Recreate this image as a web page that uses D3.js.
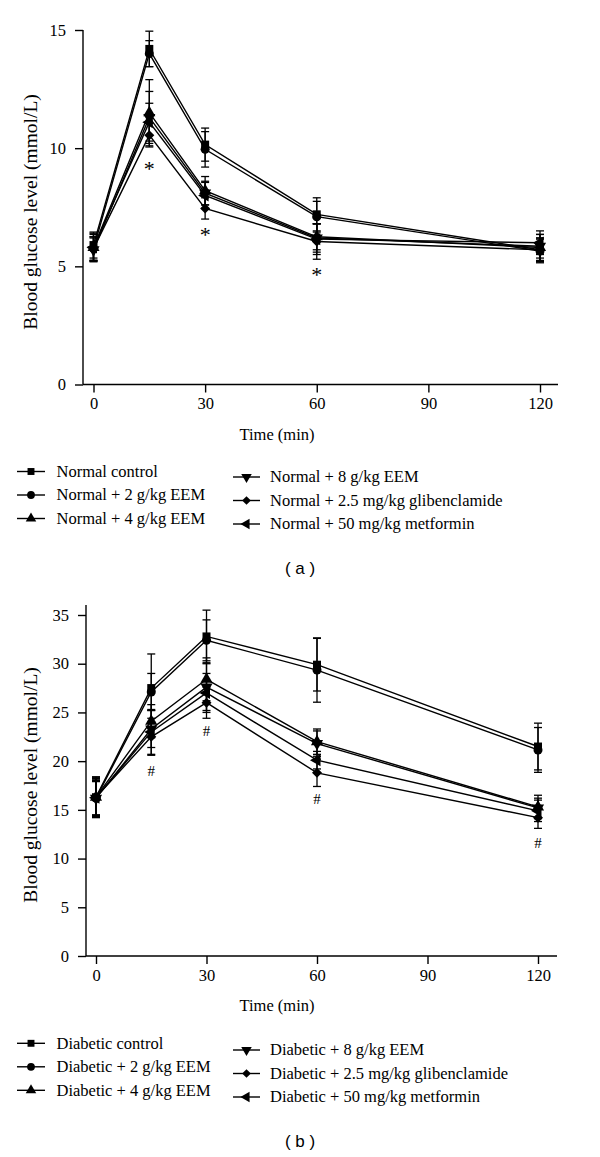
<!DOCTYPE html>
<meta charset="utf-8">
<title>Blood glucose OGTT</title>
<style>
  body { margin: 0; background: #fff; }
  svg { display: block; }
  .axis text { font-family: "Liberation Serif", "DejaVu Serif", serif; font-size: 16.5px; fill: #000; }
  .axis line, .axis path { stroke: #000; stroke-width: 1.4; }
  .ttl { font-family: "Liberation Serif", "DejaVu Serif", serif; font-size: 16.5px; fill: #000; }
  .ytl { font-family: "Liberation Serif", "DejaVu Serif", serif; font-size: 19.5px; fill: #000; }
  .leg { font-family: "Liberation Serif", "DejaVu Serif", serif; font-size: 16.5px; fill: #000; }
  .panel { font-family: "Liberation Sans", Arial, sans-serif; font-size: 17px; fill: #000; }
  .sig { font-family: "Liberation Serif", "DejaVu Serif", serif; fill: #000; }
  path.series { fill: none; stroke: #000; stroke-width: 1.4; }
  line.err { stroke: #000; stroke-width: 1.3; }
</style>
<body>
<script src="https://cdn.jsdelivr.net/npm/d3@7"></script>
<script>
// sampling times (min)
var times = [0, 15, 30, 60, 120];

// panel (a) normal rats, mean and SEM (mmol/L)
var normalLabels = ["Normal control", "Normal + 2 g/kg EEM", "Normal + 4 g/kg EEM",
                    "Normal + 8 g/kg EEM", "Normal + 2.5 mg/kg glibenclamide", "Normal + 50 mg/kg metformin"];
var normalControl = [5.9, 14.2, 10.15, 7.2, 5.7];
var normalEem2    = [5.75, 14.0, 9.95, 7.1, 5.65];
var normalEem4    = [5.8, 11.5, 8.2, 6.25, 5.8];
var normalEem8    = [5.7, 11.3, 8.1, 6.2, 5.85];
var normalGlib    = [5.75, 10.55, 7.45, 6.05, 5.7];
var normalMet     = [5.8, 11.1, 8.0, 6.15, 6.0];
var normalControlSem = [0.55, 0.75, 0.7, 0.7, 0.5];
var normalEem2Sem    = [0.5, 0.55, 0.75, 0.65, 0.5];
var normalEem4Sem    = [0.55, 1.4, 0.6, 0.55, 0.55];
var normalEem8Sem    = [0.5, 1.1, 0.5, 0.6, 0.5];
var normalGlibSem    = [0.5, 0.5, 0.45, 0.75, 0.5];
var normalMetSem     = [0.6, 0.8, 0.55, 0.65, 0.5];
var normalSig = [[15, 9.35], [30, 6.55], [60, 4.85]];

// panel (b) diabetic rats
var diabeticLabels = ["Diabetic control", "Diabetic + 2 g/kg EEM", "Diabetic + 4 g/kg EEM",
                      "Diabetic + 8 g/kg EEM", "Diabetic + 2.5 mg/kg glibenclamide", "Diabetic + 50 mg/kg metformin"];
var diabeticControl = [16.3, 27.5, 32.8, 29.9, 21.5];
var diabeticEem2    = [16.2, 27.1, 32.4, 29.35, 21.15];
var diabeticEem4    = [16.3, 24.1, 28.4, 22.0, 15.3];
var diabeticEem8    = [16.2, 23.3, 27.6, 21.8, 15.2];
var diabeticGlib    = [16.3, 22.5, 26.0, 18.8, 14.2];
var diabeticMet     = [16.25, 23.0, 27.0, 20.1, 14.9];
var diabeticControlSem = [1.9, 3.5, 2.7, 2.7, 2.4];
var diabeticEem2Sem    = [1.8, 1.9, 2.1, 3.3, 2.3];
var diabeticEem4Sem    = [2.0, 1.7, 2.2, 1.3, 1.2];
var diabeticEem8Sem    = [1.7, 1.9, 2.4, 1.3, 1.0];
var diabeticGlibSem    = [2.1, 1.9, 1.6, 1.4, 1.1];
var diabeticMetSem     = [1.9, 2.3, 2.0, 0.9, 1.1];
var diabeticSig = [[15, 19.1], [30, 23.2], [60, 16.2], [120, 11.7]];

var xTicks = [0, 30, 60, 90, 120];

// marker shapes: [symbol type, rotation, size]
var markers = [
  [d3.symbolSquare, 0, 64],
  [d3.symbolCircle, 0, 64],
  [d3.symbolTriangle, 0, 64],
  [d3.symbolTriangle, 180, 64],
  [d3.symbolSquare, 45, 50],
  [d3.symbolTriangle, -90, 64]
];

var svg = d3.select("body").append("svg")
    .attr("width", 600)
    .attr("height", 1157);

function panel(opt) {
  var x = d3.scaleLinear().domain([0, 120]).range(opt.xRange);
  var y = d3.scaleLinear().domain(opt.yDomain).range(opt.yRange);
  var g = svg.append("g");

  // y axis
  var ya = g.append("g").attr("class", "axis")
      .attr("transform", "translate(" + opt.yAxisX + ",0)")
      .call(d3.axisLeft(y).tickValues(opt.yTicks).tickSize(8).tickSizeOuter(0).tickPadding(9));
  ya.attr("font-family", null).attr("font-size", null);
  ya.select(".domain").attr("d", "M0," + y(0) + "V" + opt.yTop);

  // x axis
  var xa = g.append("g").attr("class", "axis")
      .attr("transform", "translate(0," + y(0) + ")")
      .call(d3.axisBottom(x).tickValues(xTicks).tickSize(8).tickSizeOuter(0).tickPadding(5));
  xa.attr("font-family", null).attr("font-size", null);
  xa.select(".domain").attr("d", "M" + opt.yAxisX + ",0H" + opt.xEnd);

  g.append("text").attr("class", "ttl")
      .attr("text-anchor", "middle")
      .attr("x", 277)
      .attr("y", y(0) + 55)
      .text("Time (min)");

  g.append("text").attr("class", "ytl")
      .attr("text-anchor", "middle")
      .attr("transform", "translate(37," + opt.yTitleY + ") rotate(-90)")
      .text("Blood glucose level (mmol/L)");

  var line = d3.line().x(function(d) { return x(d[0]); }).y(function(d) { return y(d[1]); });

  opt.means.forEach(function(m, i) {
    var pts = times.map(function(t, j) { return [t, m[j], opt.sems[i][j]]; });
    g.append("path").attr("class", "series").attr("d", line(pts));
    var eb = g.append("g");
    pts.forEach(function(p) {
      var cx = x(p[0]);
      eb.append("line").attr("class", "err")
        .attr("x1", cx).attr("x2", cx).attr("y1", y(p[1] - p[2])).attr("y2", y(p[1] + p[2]));
      [p[1] - p[2], p[1] + p[2]].forEach(function(v) {
        eb.append("line").attr("class", "err")
          .attr("x1", cx - 4).attr("x2", cx + 4).attr("y1", y(v)).attr("y2", y(v));
      });
    });
    var mk = markers[i];
    g.selectAll(null).data(pts).enter().append("path")
      .attr("d", d3.symbol().type(mk[0]).size(mk[2]))
      .attr("transform", function(d) { return "translate(" + x(d[0]) + "," + y(d[1]) + ") rotate(" + mk[1] + ")"; })
      .attr("fill", "#000");
  });

  g.selectAll(null).data(opt.sig).enter().append("text")
    .attr("class", "sig")
    .attr("text-anchor", "middle")
    .attr("x", function(d) { return x(d[0]); })
    .attr("y", function(d) { return y(d[1]) + (opt.sigChar === "*" ? 12 : 6); })
    .style("font-size", opt.sigChar === "*" ? "22px" : "15px")
    .text(opt.sigChar);

  // legend
  var legX = [[17, 45, 56.5], [233, 260, 270]];
  opt.labels.forEach(function(lab, i) {
    var col = i < 3 ? 0 : 1;
    var ly = opt.legY[col] + (i % 3) * 23.5;
    var lx = legX[col];
    g.append("line").attr("x1", lx[0]).attr("x2", lx[1]).attr("y1", ly).attr("y2", ly)
      .attr("stroke", "#000").attr("stroke-width", 1.4);
    var mk = markers[i];
    g.append("path")
      .attr("d", d3.symbol().type(mk[0]).size(mk[2] * 0.75))
      .attr("transform", "translate(" + (lx[0] + lx[1]) / 2 + "," + ly + ") rotate(" + mk[1] + ")")
      .attr("fill", "#000");
    g.append("text").attr("class", "leg")
      .attr("x", lx[2]).attr("y", ly).attr("dy", "0.33em")
      .text(lab);
  });

  g.append("text").attr("class", "panel")
    .attr("text-anchor", "middle")
    .attr("x", 300).attr("y", opt.panelY)
    .attr("dy", "0.35em")
    .text(opt.panelLabel);
}

panel({
  xRange: [93.5, 540], yDomain: [0, 15], yRange: [384.5, 30], yTop: 30, yTitleY: 212,
  yAxisX: 83, xEnd: 558, yTicks: [0, 5, 10, 15],
  means: [normalControl, normalEem2, normalEem4, normalEem8, normalGlib, normalMet],
  sems: [normalControlSem, normalEem2Sem, normalEem4Sem, normalEem8Sem, normalGlibSem, normalMetSem],
  labels: normalLabels, sig: normalSig, sigChar: "*",
  legY: [471.5, 477], panelY: 568, panelLabel: "( a )"
});

panel({
  xRange: [96, 538], yDomain: [0, 35], yRange: [956, 615], yTop: 605, yTitleY: 785,
  yAxisX: 86, xEnd: 557, yTicks: [0, 5, 10, 15, 20, 25, 30, 35],
  means: [diabeticControl, diabeticEem2, diabeticEem4, diabeticEem8, diabeticGlib, diabeticMet],
  sems: [diabeticControlSem, diabeticEem2Sem, diabeticEem4Sem, diabeticEem8Sem, diabeticGlibSem, diabeticMetSem],
  labels: diabeticLabels, sig: diabeticSig, sigChar: "#",
  legY: [1043.3, 1050], panelY: 1141.5, panelLabel: "( b )"
});
</script>
</body>
